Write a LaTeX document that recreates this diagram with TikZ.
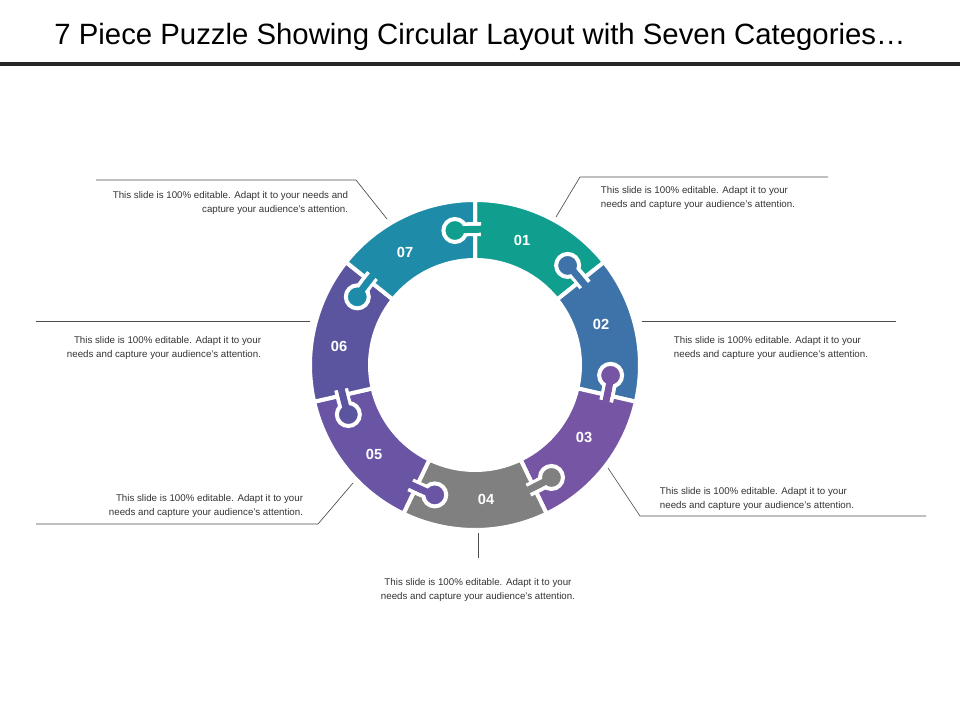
\documentclass[tikz,border=0pt]{standalone}
\usepackage{fontspec}
\setmainfont{Liberation Sans}
\definecolor{cOne}{HTML}{109F8F}
\definecolor{cTwo}{HTML}{3E73AA}
\definecolor{cThree}{HTML}{7555A4}
\definecolor{cFour}{HTML}{808080}
\definecolor{cFive}{HTML}{6A55A5}
\definecolor{cSix}{HTML}{5B55A0}
\definecolor{cSeven}{HTML}{1E8CA8}
\tikzset{every picture/.style={line width=0.75pt}}
\tikzset{
  numlbl/.style={text=white,font=\fontsize{11}{13}\selectfont\bfseries},
  desc/.style={font=\fontsize{7.3}{10.5}\selectfont,text=black!80},
  leader/.style={draw=black!70,line width=0.5pt}
}
\begin{document}
\begin{tikzpicture}[x=0.75pt,y=0.75pt,yscale=-1,xscale=1]
\useasboundingbox (0,0) rectangle (960,720);

% Title
\node (title) at (480,37) {\fontsize{22}{26}\selectfont 7 Piece Puzzle Showing Circular Layout with Seven Categories\dots};
\draw[line width=3pt,black!85] (0,64) -- (960,64);

% Ring pieces
\foreach \k/\c in {1/cOne,2/cTwo,3/cThree,4/cFour,5/cFive,6/cSix,7/cSeven}{
  \pgfmathsetmacro{\aa}{90-(\k-1)*360/7}
  \pgfmathsetmacro{\ab}{90-\k*360/7}
  \fill[\c,draw=white,line width=3pt] ([shift={(475,365)}]-\aa:165) arc[start angle=-\aa,end angle=-\ab,radius=165]
    -- ([shift={(475,365)}]-\ab:105) arc[start angle=-\ab,end angle=-\aa,radius=105] -- cycle;
}
% Knobs
\foreach \k/\c in {1/cOne,2/cTwo,3/cThree,4/cFour,5/cFive,6/cSix,7/cSeven}{
  \pgfmathsetmacro{\aa}{90-(\k-1)*360/7}
  \fill[\c,draw=white,line width=3pt]
    ([shift={(475,365)}]-\aa+1.7:131) -- ([shift={(475,365)}]-\aa-1.7:131) -- ([shift={(475,365)}]-\aa-5:131)
    -- ([shift={(475,365)}]-\aa-5:141) -- ([shift={(475,365)}]-\aa-1.7:141) -- ([shift={(475,365)}]-\aa+1.7:141) -- cycle;
  \fill[\c,draw=white,line width=3pt] ([shift={(475,365)}]-\aa-8.5:136) circle (11.5);
  \fill[\c] ([shift={(475,365)}]-\aa+3:132.5) -- ([shift={(475,365)}]-\aa-5.5:132.5)
    -- ([shift={(475,365)}]-\aa-5.5:139.5) -- ([shift={(475,365)}]-\aa+3:139.5) -- cycle;
}

% Number labels
\node[numlbl] (n1) at (522,240) {01};
\node[numlbl] (n2) at (601,324) {02};
\node[numlbl] (n3) at (584,437) {03};
\node[numlbl] (n4) at (486,499) {04};
\node[numlbl] (n5) at (374,454) {05};
\node[numlbl] (n6) at (339,346) {06};
\node[numlbl] (n7) at (405,252) {07};

% Descriptions
\node[desc,anchor=north west,align=left] (d1) at (596,182) {This slide is 100\% editable. Adapt it to your\\needs and capture your audience's attention.};
\node[desc,anchor=north west,align=left] (d2) at (669,332) {This slide is 100\% editable. Adapt it to your\\needs and capture your audience's attention.};
\node[desc,anchor=north west,align=left] (d3) at (655,483) {This slide is 100\% editable. Adapt it to your\\needs and capture your audience's attention.};
\node[desc,anchor=north,align=center] (d4) at (478,573) {This slide is 100\% editable. Adapt it to your\\needs and capture your audience's attention.};
\node[desc,anchor=north east,align=right] (d5) at (308,490) {This slide is 100\% editable. Adapt it to your\\needs and capture your audience's attention.};
\node[desc,anchor=north east,align=right] (d6) at (266,332) {This slide is 100\% editable. Adapt it to your\\needs and capture your audience's attention.};
\node[desc,anchor=north east,align=right] (d7) at (353,187) {This slide is 100\% editable. Adapt it to your needs and\\capture your audience's attention.};

% Leader lines
\coordinate (p1) at (556,217); \coordinate (q1) at (580,177); \coordinate (r1) at (828,177);
\draw[leader] (p1) -- (q1) -- (r1);
\coordinate (q2) at (642,321); \coordinate (r2) at (896,321);
\draw[leader] (q2) -- (r2);
\coordinate (p3) at (608,468); \coordinate (q3) at (640,516); \coordinate (r3) at (926,516);
\draw[leader] (p3) -- (q3) -- (r3);
\coordinate (q4) at (478,533); \coordinate (r4) at (478,558);
\draw[leader] (q4) -- (r4);
\coordinate (p5) at (353,483); \coordinate (q5) at (318,524); \coordinate (r5) at (36,524);
\draw[leader] (p5) -- (q5) -- (r5);
\coordinate (q6) at (310,321); \coordinate (r6) at (36,321);
\draw[leader] (q6) -- (r6);
\coordinate (p7) at (387,219); \coordinate (q7) at (356,180); \coordinate (r7) at (96,180);
\draw[leader] (p7) -- (q7) -- (r7);

\end{tikzpicture}
\end{document}
